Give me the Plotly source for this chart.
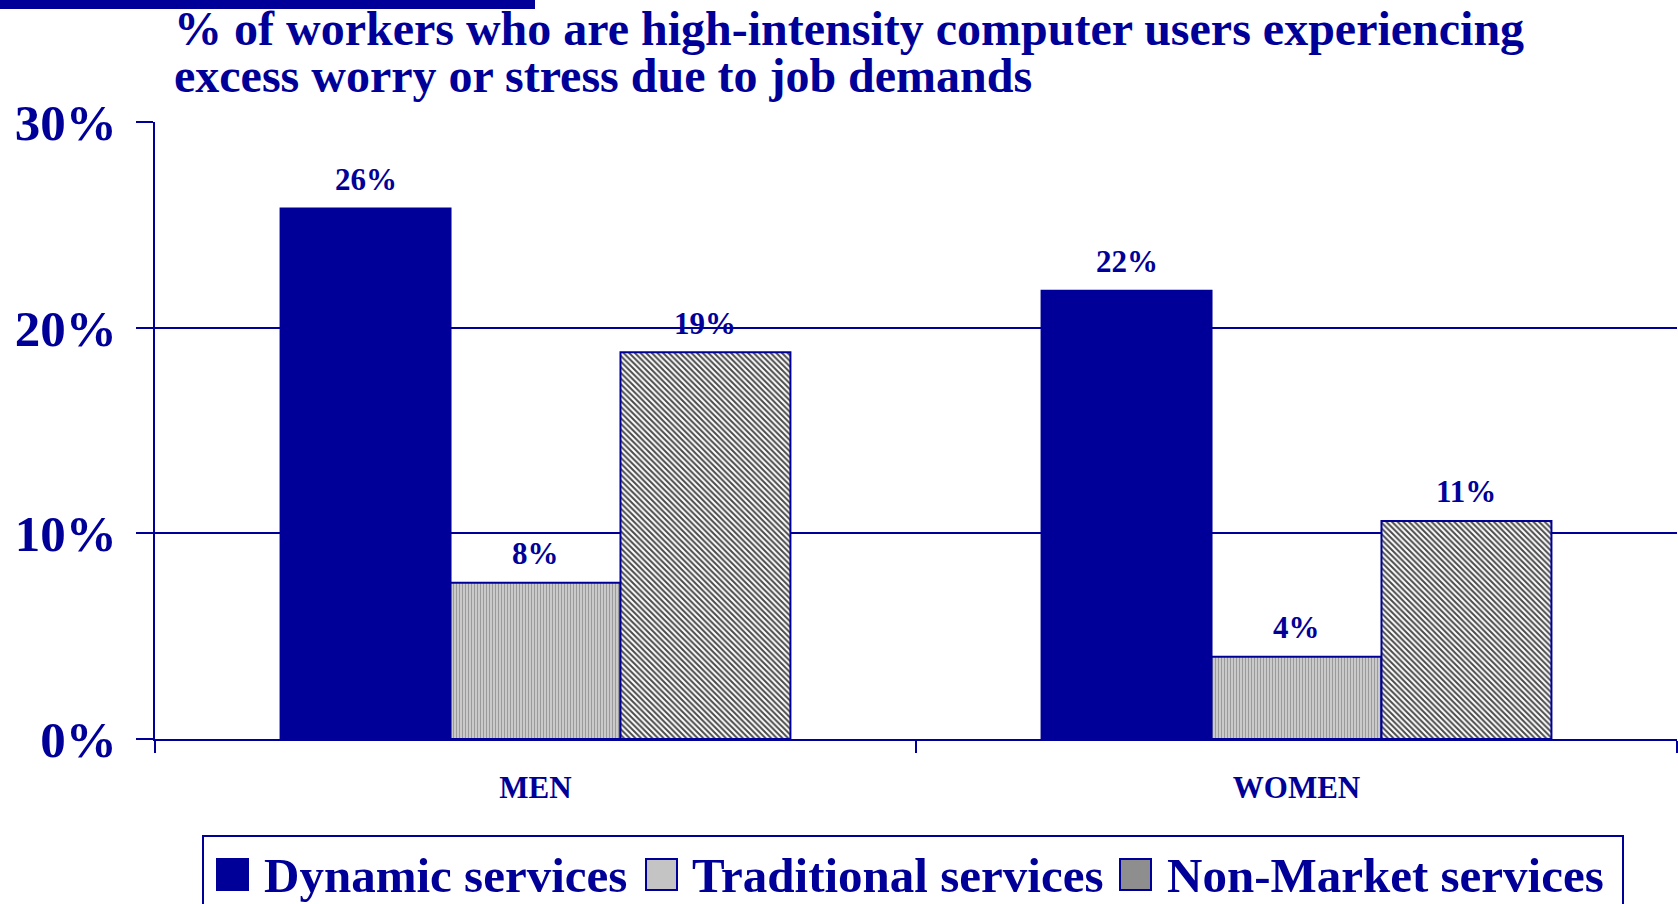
import plotly.graph_objects as go

# ---- data -------------------------------------------------------------
groups = ["MEN", "WOMEN"]
series_names = ["Dynamic services", "Traditional services", "Non-Market services"]
dynamic = [25.8, 21.8]
traditional = [7.6, 4.0]
non_market = [18.8, 10.6]
y_ticks = [0, 10, 20, 30]
y_tick_text = [f"{v}%" for v in y_ticks]

# ---- styling ----------------------------------------------------------
NAVY = "#000099"
FONT = "Liberation Serif"
W, H = 1678, 904
ML, MR, MT, MB = 155, 1, 122, 165
PW, PH = W - ML - MR, H - MT - MB
BARGAP = 0.33


def xp(px):
    """pixel column -> paper x"""
    return (px - ML) / PW


def yp(py):
    """pixel row -> paper y"""
    return 1 - (py - MT) / PH


fills = [
    dict(color=NAVY),
    dict(color="#c6c6c6",
         pattern=dict(shape="|", bgcolor="#cacaca", fgcolor="#9a9a9a",
                      size=3, solidity=0.35, fillmode="replace")),
    dict(color="#8a8a8a",
         pattern=dict(shape="\\", bgcolor="#ffffff", fgcolor="#4a4a4a",
                      size=4, solidity=0.5, fillmode="replace")),
]
swatch_colors = [NAVY, "#c4c4c4", "#8e8e8e"]

fig = go.Figure()
all_values = [dynamic, traditional, non_market]
for name, vals, mk in zip(series_names, all_values, fills):
    fig.add_trace(go.Bar(
        x=groups, y=vals, name=name,
        marker=dict(line=dict(color=NAVY, width=2), **mk),
        showlegend=False,
    ))

# value labels above each bar, placed at the bar's centre
bar_w = (1 - BARGAP) / len(series_names)
annotations = []
for k, vals in enumerate(all_values):
    for i, v in enumerate(vals):
        annotations.append(dict(
            x=i + (k - 1) * bar_w, y=v, xref="x", yref="y",
            text=f"{v:.0f}%", showarrow=False,
            yanchor="middle", yshift=29,
            font=dict(family=FONT, size=31, color=NAVY, weight="bold"),
        ))

# two-line heading
title_font = dict(family=FONT, size=48, color=NAVY, weight="bold")
annotations.append(dict(
    x=xp(172), y=yp(28), xref="paper", yref="paper", xanchor="left",
    yanchor="middle", showarrow=False, font=title_font,
    text="% of workers who are high-intensity computer users experiencing"))
annotations.append(dict(
    x=xp(172), y=yp(75), xref="paper", yref="paper", xanchor="left",
    yanchor="middle", showarrow=False, font=title_font,
    text="excess worry or stress due to job demands"))

# legend: swatches + labels inside a framed box
legend_font = dict(family=FONT, size=49, color=NAVY, weight="bold")
swatch_x = [217, 646, 1120]
label_x = [262, 690, 1165]
shapes = [
    dict(type="rect", xref="paper", yref="paper",
         x0=xp(0), x1=xp(535), y0=yp(9), y1=yp(0),
         fillcolor=NAVY, line=dict(width=0)),
    dict(type="rect", xref="paper", yref="paper",
         x0=xp(203), x1=xp(1623), y0=yp(910), y1=yp(836),
         fillcolor="rgba(0,0,0,0)", line=dict(color=NAVY, width=2)),
]
for sx, lx, name, col in zip(swatch_x, label_x, series_names, swatch_colors):
    shapes.append(dict(type="rect", xref="paper", yref="paper",
                       x0=xp(sx), x1=xp(sx + 31), y0=yp(890), y1=yp(859),
                       fillcolor=col, line=dict(color=NAVY, width=2)))
    annotations.append(dict(
        x=xp(lx), y=yp(875), xref="paper", yref="paper", xanchor="left",
        yanchor="middle", showarrow=False, font=legend_font, text=name))

fig.update_layout(
    width=W, height=H,
    margin=dict(l=ML, r=MR, t=MT, b=MB, pad=0),
    paper_bgcolor="white", plot_bgcolor="white",
    barmode="group", bargap=BARGAP, bargroupgap=0,
    annotations=annotations, shapes=shapes,
    showlegend=False,
)
fig.update_xaxes(
    type="category", range=[-0.5, 1.5],
    showline=True, linecolor=NAVY, linewidth=2,
    ticks="outside", tickson="boundaries", ticklen=12,
    tickcolor=NAVY, tickwidth=2, showgrid=False,
    tickfont=dict(family=FONT, size=31, color=NAVY, weight="bold"),
    ticklabelstandoff=20,
)
fig.update_yaxes(
    range=[0, 30], tickvals=y_ticks, ticktext=y_tick_text,
    showgrid=True, gridcolor=NAVY, gridwidth=2, zeroline=False,
    showline=True, linecolor=NAVY, linewidth=2,
    ticks="outside", ticklen=17, tickcolor=NAVY, tickwidth=2,
    tickfont=dict(family=FONT, size=51, color=NAVY, weight="bold"),
    ticklabelstandoff=9,
)

fig.write_html("out.html")
